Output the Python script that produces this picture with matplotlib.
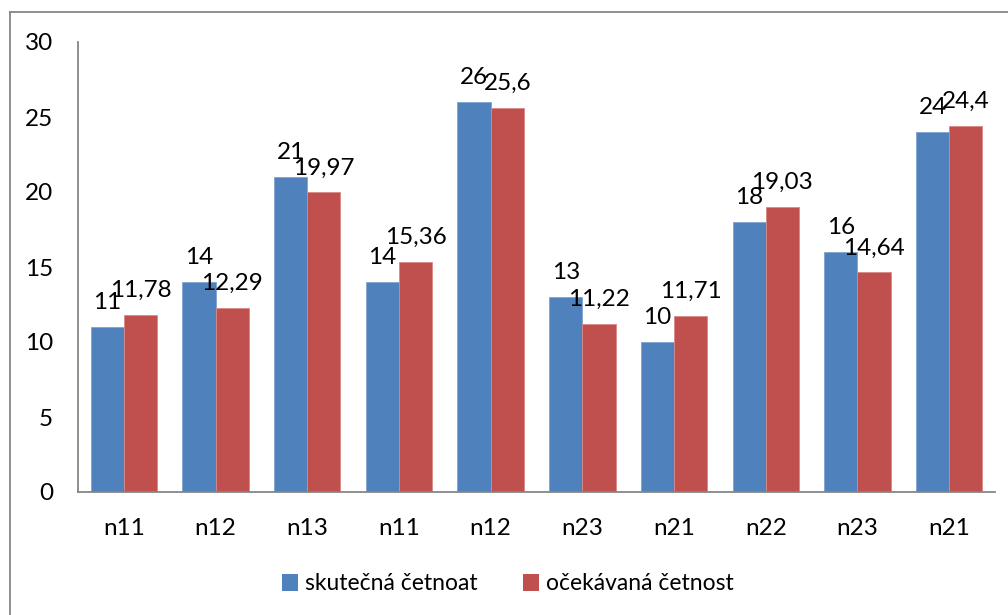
import matplotlib
matplotlib.use("Agg")
import matplotlib.pyplot as plt
import numpy as np
from matplotlib.lines import Line2D
from matplotlib.patches import Patch

categories = ["n11", "n12", "n13", "n11", "n12", "n23", "n21", "n22", "n23", "n21"]
actual = [11, 14, 21, 14, 26, 13, 10, 18, 16, 24]
expected = [11.78, 12.29, 19.97, 15.36, 25.6, 11.22, 11.71, 19.03, 14.64, 24.4]
series_names = ["skutečná četnoat", "očekávaná četnost"]
yticks = [0, 5, 10, 15, 20, 25, 30]

plt.rcParams['font.family'] = ['Lato', 'DejaVu Sans']

W, H = 1008, 615
fig = plt.figure(figsize=(W / 100, H / 100), dpi=100)
ax = fig.add_axes([78 / W, 1 - 492 / H, (995 - 78) / W, (492 - 42) / H])

blue = "#4F81BD"
red = "#C0504D"
x = np.arange(len(categories))
bw = 0.3625
ax.bar(x - bw / 2, actual, bw, color=blue, edgecolor="#7FA3D1", linewidth=0.6)
ax.bar(x + bw / 2, expected, bw, color=red, edgecolor="#D88A88", linewidth=0.6)

def fmt(v):
    return ("%g" % v).replace(".", ",")

FS = 17.5
for xi, v in zip(x - bw / 2, actual):
    ax.annotate(fmt(v), (xi, v), xytext=(0, 13), textcoords="offset points",
                ha="center", va="baseline", fontsize=FS, color="black")
for xi, v in zip(x + bw / 2, expected):
    ax.annotate(fmt(v), (xi, v), xytext=(0, 13), textcoords="offset points",
                ha="center", va="baseline", fontsize=FS, color="black")

ax.set_xlim(-0.5, len(categories) - 0.5)
ax.set_ylim(0, 30)
ax.set_yticks(yticks)
ax.set_yticklabels([str(t) for t in yticks], fontsize=FS)
ax.set_xticks(x)
ax.set_xticklabels(categories, fontsize=FS)
ax.tick_params(axis="y", length=0, pad=18)
ax.tick_params(axis="x", length=0, pad=19)
for s in ["top", "right"]:
    ax.spines[s].set_visible(False)
for s in ["left", "bottom"]:
    ax.spines[s].set_color("#868686")
    ax.spines[s].set_linewidth(1.3)

handles = [Patch(facecolor=blue), Patch(facecolor=red)]
fig.legend(handles, series_names, loc="center", bbox_to_anchor=(508 / W, 1 - 584 / H),
           ncol=2, frameon=False, fontsize=16.5, handlelength=0.7, handleheight=0.7,
           handletextpad=0.3, columnspacing=2.0)

# outer chart border (top and left visible)
gray = "#868686"
fig.add_artist(Line2D([9.5 / W, 1.01], [1 - 11.5 / H, 1 - 11.5 / H], color=gray, lw=1.3,
                      transform=fig.transFigure))
fig.add_artist(Line2D([9.5 / W, 9.5 / W], [1 - 11.5 / H, -0.01], color=gray, lw=1.3,
                      transform=fig.transFigure))

fig.savefig("out.png", dpi=100)
